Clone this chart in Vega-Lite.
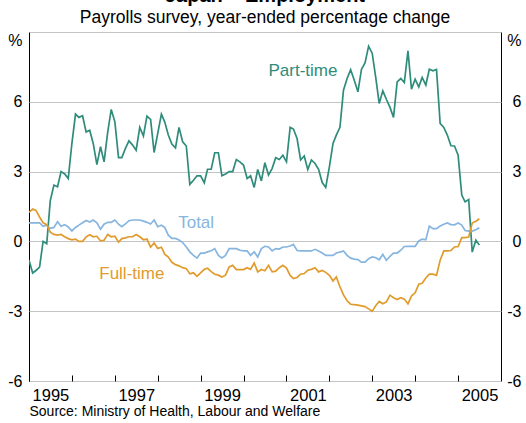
{
  "$schema": "https://vega.github.io/schema/vega-lite/v6.json",
  "width": 472,
  "height": 349,
  "autosize": {"type": "none"},
  "padding": {"left": 29, "top": 32, "right": 25, "bottom": 42},
  "background": "white",
  "config": {
    "font": "Liberation Sans",
    "view": {"stroke": "#000", "strokeWidth": 1},
    "axis": {"labelColor": "#000", "labelFont": "Liberation Sans", "titleFont": "Liberation Sans", "titleColor": "#000"}
  },
  "title": {
    "text": "Japan – Employment",
    "subtitle": "Payrolls survey, year-ended percentage change",
    "fontSize": 20,
    "fontWeight": "bold",
    "color": "#000",
    "subtitleFontSize": 17.5,
    "subtitleColor": "#000",
    "subtitleFont": "Liberation Sans",
    "anchor": "middle",
    "offset": 6,
    "subtitlePadding": 3
  },
  "datasets": {
    "emp": [
      {"date": "1995-01", "Part-time": -0.8, "Total": 0.8, "Full-time": 1.25},
      {"date": "1995-02", "Part-time": -1.36, "Total": 0.8, "Full-time": 1.39},
      {"date": "1995-03", "Part-time": -1.25, "Total": 0.8, "Full-time": 1.33},
      {"date": "1995-04", "Part-time": -1.1, "Total": 0.8, "Full-time": 1.05},
      {"date": "1995-05", "Part-time": 0.0, "Total": 0.65, "Full-time": 0.8},
      {"date": "1995-06", "Part-time": -0.1, "Total": 0.7, "Full-time": 0.72},
      {"date": "1995-07", "Part-time": 1.75, "Total": 0.56, "Full-time": 0.4},
      {"date": "1995-08", "Part-time": 2.42, "Total": 0.6, "Full-time": 0.3},
      {"date": "1995-09", "Part-time": 2.35, "Total": 0.85, "Full-time": 0.27},
      {"date": "1995-10", "Part-time": 3.0, "Total": 0.65, "Full-time": 0.3},
      {"date": "1995-11", "Part-time": 2.9, "Total": 0.72, "Full-time": 0.2},
      {"date": "1995-12", "Part-time": 2.7, "Total": 0.62, "Full-time": 0.12},
      {"date": "1996-01", "Part-time": 4.2, "Total": 0.45, "Full-time": 0.07},
      {"date": "1996-02", "Part-time": 5.47, "Total": 0.6, "Full-time": 0.1},
      {"date": "1996-03", "Part-time": 5.33, "Total": 0.7, "Full-time": 0.0},
      {"date": "1996-04", "Part-time": 5.4, "Total": 0.8, "Full-time": 0.0},
      {"date": "1996-05", "Part-time": 4.7, "Total": 0.9, "Full-time": 0.19},
      {"date": "1996-06", "Part-time": 4.78, "Total": 0.83, "Full-time": 0.29},
      {"date": "1996-07", "Part-time": 4.2, "Total": 0.92, "Full-time": 0.2},
      {"date": "1996-08", "Part-time": 3.3, "Total": 0.8, "Full-time": 0.22},
      {"date": "1996-09", "Part-time": 4.07, "Total": 0.53, "Full-time": 0.02},
      {"date": "1996-10", "Part-time": 3.42, "Total": 0.74, "Full-time": 0.05},
      {"date": "1996-11", "Part-time": 4.7, "Total": 0.82, "Full-time": 0.3},
      {"date": "1996-12", "Part-time": 5.67, "Total": 0.82, "Full-time": 0.2},
      {"date": "1997-01", "Part-time": 5.14, "Total": 0.92, "Full-time": 0.22},
      {"date": "1997-02", "Part-time": 3.6, "Total": 0.74, "Full-time": -0.03},
      {"date": "1997-03", "Part-time": 3.6, "Total": 0.63, "Full-time": 0.12},
      {"date": "1997-04", "Part-time": 4.0, "Total": 0.75, "Full-time": 0.15},
      {"date": "1997-05", "Part-time": 4.32, "Total": 0.89, "Full-time": 0.2},
      {"date": "1997-06", "Part-time": 4.14, "Total": 0.92, "Full-time": 0.2},
      {"date": "1997-07", "Part-time": 3.92, "Total": 0.92, "Full-time": 0.3},
      {"date": "1997-08", "Part-time": 4.9, "Total": 0.92, "Full-time": 0.2},
      {"date": "1997-09", "Part-time": 4.53, "Total": 0.87, "Full-time": 0.07},
      {"date": "1997-10", "Part-time": 5.38, "Total": 0.82, "Full-time": 0.1},
      {"date": "1997-11", "Part-time": 5.24, "Total": 0.75, "Full-time": -0.25},
      {"date": "1997-12", "Part-time": 3.82, "Total": 0.92, "Full-time": -0.07},
      {"date": "1998-01", "Part-time": 4.64, "Total": 0.63, "Full-time": -0.3},
      {"date": "1998-02", "Part-time": 5.47, "Total": 0.7, "Full-time": -0.25},
      {"date": "1998-03", "Part-time": 5.14, "Total": 0.6, "Full-time": -0.55},
      {"date": "1998-04", "Part-time": 4.57, "Total": 0.27, "Full-time": -0.67},
      {"date": "1998-05", "Part-time": 4.18, "Total": 0.13, "Full-time": -0.9},
      {"date": "1998-06", "Part-time": 4.02, "Total": 0.13, "Full-time": -1.0},
      {"date": "1998-07", "Part-time": 4.9, "Total": 0.06, "Full-time": -1.05},
      {"date": "1998-08", "Part-time": 4.28, "Total": -0.05, "Full-time": -1.13},
      {"date": "1998-09", "Part-time": 4.1, "Total": -0.24, "Full-time": -1.17},
      {"date": "1998-10", "Part-time": 2.45, "Total": -0.45, "Full-time": -1.39},
      {"date": "1998-11", "Part-time": 2.63, "Total": -0.6, "Full-time": -1.35},
      {"date": "1998-12", "Part-time": 2.82, "Total": -0.72, "Full-time": -1.5},
      {"date": "1999-01", "Part-time": 2.82, "Total": -0.5, "Full-time": -1.35},
      {"date": "1999-02", "Part-time": 2.52, "Total": -0.5, "Full-time": -1.2},
      {"date": "1999-03", "Part-time": 3.1, "Total": -0.45, "Full-time": -1.15},
      {"date": "1999-04", "Part-time": 3.1, "Total": -0.4, "Full-time": -1.3},
      {"date": "1999-05", "Part-time": 3.81, "Total": -0.31, "Full-time": -1.41},
      {"date": "1999-06", "Part-time": 3.81, "Total": -0.6, "Full-time": -1.45},
      {"date": "1999-07", "Part-time": 2.82, "Total": -0.71, "Full-time": -1.53},
      {"date": "1999-08", "Part-time": 2.9, "Total": -0.6, "Full-time": -1.45},
      {"date": "1999-09", "Part-time": 3.0, "Total": -0.31, "Full-time": -1.1},
      {"date": "1999-10", "Part-time": 3.0, "Total": -0.31, "Full-time": -1.03},
      {"date": "1999-11", "Part-time": 3.52, "Total": -0.31, "Full-time": -1.21},
      {"date": "1999-12", "Part-time": 3.42, "Total": -0.38, "Full-time": -1.21},
      {"date": "2000-01", "Part-time": 3.28, "Total": -0.41, "Full-time": -1.21},
      {"date": "2000-02", "Part-time": 2.7, "Total": -0.41, "Full-time": -1.13},
      {"date": "2000-03", "Part-time": 2.82, "Total": -0.6, "Full-time": -1.2},
      {"date": "2000-04", "Part-time": 2.32, "Total": -0.45, "Full-time": -0.93},
      {"date": "2000-05", "Part-time": 3.09, "Total": -0.67, "Full-time": -1.31},
      {"date": "2000-06", "Part-time": 2.6, "Total": -0.31, "Full-time": -1.21},
      {"date": "2000-07", "Part-time": 3.38, "Total": -0.21, "Full-time": -1.26},
      {"date": "2000-08", "Part-time": 2.85, "Total": -0.24, "Full-time": -1.03},
      {"date": "2000-09", "Part-time": 3.14, "Total": -0.41, "Full-time": -1.31},
      {"date": "2000-10", "Part-time": 3.6, "Total": -0.31, "Full-time": -1.28},
      {"date": "2000-11", "Part-time": 3.52, "Total": -0.33, "Full-time": -1.13},
      {"date": "2000-12", "Part-time": 3.7, "Total": -0.24, "Full-time": -1.03},
      {"date": "2001-01", "Part-time": 3.42, "Total": -0.24, "Full-time": -1.15},
      {"date": "2001-02", "Part-time": 4.9, "Total": -0.2, "Full-time": -1.46},
      {"date": "2001-03", "Part-time": 4.83, "Total": -0.13, "Full-time": -1.6},
      {"date": "2001-04", "Part-time": 4.42, "Total": -0.39, "Full-time": -1.55},
      {"date": "2001-05", "Part-time": 3.5, "Total": -0.41, "Full-time": -1.41},
      {"date": "2001-06", "Part-time": 3.67, "Total": -0.41, "Full-time": -1.38},
      {"date": "2001-07", "Part-time": 3.09, "Total": -0.41, "Full-time": -1.24},
      {"date": "2001-08", "Part-time": 3.5, "Total": -0.41, "Full-time": -1.2},
      {"date": "2001-09", "Part-time": 3.35, "Total": -0.34, "Full-time": -1.13},
      {"date": "2001-10", "Part-time": 3.1, "Total": -0.41, "Full-time": -1.31},
      {"date": "2001-11", "Part-time": 2.53, "Total": -0.5, "Full-time": -1.25},
      {"date": "2001-12", "Part-time": 2.32, "Total": -0.6, "Full-time": -1.33},
      {"date": "2002-01", "Part-time": 3.2, "Total": -0.6, "Full-time": -1.46},
      {"date": "2002-02", "Part-time": 4.21, "Total": -0.6, "Full-time": -1.7},
      {"date": "2002-03", "Part-time": 4.57, "Total": -0.5, "Full-time": -1.53},
      {"date": "2002-04", "Part-time": 4.9, "Total": -0.46, "Full-time": -1.95},
      {"date": "2002-05", "Part-time": 6.5, "Total": -0.41, "Full-time": -2.3},
      {"date": "2002-06", "Part-time": 7.0, "Total": -0.6, "Full-time": -2.55},
      {"date": "2002-07", "Part-time": 7.38, "Total": -0.72, "Full-time": -2.7},
      {"date": "2002-08", "Part-time": 6.93, "Total": -0.76, "Full-time": -2.72},
      {"date": "2002-09", "Part-time": 6.43, "Total": -0.78, "Full-time": -2.74},
      {"date": "2002-10", "Part-time": 7.39, "Total": -0.89, "Full-time": -2.77},
      {"date": "2002-11", "Part-time": 7.68, "Total": -0.89, "Full-time": -2.8},
      {"date": "2002-12", "Part-time": 8.39, "Total": -0.74, "Full-time": -2.9},
      {"date": "2003-01", "Part-time": 8.08, "Total": -0.67, "Full-time": -3.0},
      {"date": "2003-02", "Part-time": 7.0, "Total": -0.7, "Full-time": -2.75},
      {"date": "2003-03", "Part-time": 5.93, "Total": -0.79, "Full-time": -2.58},
      {"date": "2003-04", "Part-time": 6.47, "Total": -0.56, "Full-time": -2.68},
      {"date": "2003-05", "Part-time": 6.11, "Total": -0.81, "Full-time": -2.6},
      {"date": "2003-06", "Part-time": 5.76, "Total": -0.64, "Full-time": -2.31},
      {"date": "2003-07", "Part-time": 5.33, "Total": -0.5, "Full-time": -2.42},
      {"date": "2003-08", "Part-time": 6.86, "Total": -0.5, "Full-time": -2.5},
      {"date": "2003-09", "Part-time": 7.0, "Total": -0.38, "Full-time": -2.42},
      {"date": "2003-10", "Part-time": 6.83, "Total": -0.22, "Full-time": -2.48},
      {"date": "2003-11", "Part-time": 8.19, "Total": -0.21, "Full-time": -2.68},
      {"date": "2003-12", "Part-time": 6.54, "Total": -0.21, "Full-time": -2.35},
      {"date": "2004-01", "Part-time": 6.97, "Total": -0.21, "Full-time": -2.21},
      {"date": "2004-02", "Part-time": 6.64, "Total": 0.02, "Full-time": -1.84},
      {"date": "2004-03", "Part-time": 7.05, "Total": 0.1, "Full-time": -1.8},
      {"date": "2004-04", "Part-time": 6.72, "Total": 0.07, "Full-time": -1.57},
      {"date": "2004-05", "Part-time": 7.4, "Total": 0.66, "Full-time": -1.41},
      {"date": "2004-06", "Part-time": 7.33, "Total": 0.55, "Full-time": -1.41},
      {"date": "2004-07", "Part-time": 7.39, "Total": 0.55, "Full-time": -1.46},
      {"date": "2004-08", "Part-time": 5.07, "Total": 0.66, "Full-time": -0.81},
      {"date": "2004-09", "Part-time": 4.9, "Total": 0.74, "Full-time": -0.41},
      {"date": "2004-10", "Part-time": 4.57, "Total": 0.79, "Full-time": -0.41},
      {"date": "2004-11", "Part-time": 4.11, "Total": 0.72, "Full-time": -0.39},
      {"date": "2004-12", "Part-time": 4.1, "Total": 0.71, "Full-time": -0.24},
      {"date": "2005-01", "Part-time": 3.7, "Total": 0.79, "Full-time": -0.22},
      {"date": "2005-02", "Part-time": 1.99, "Total": 0.7, "Full-time": 0.16},
      {"date": "2005-03", "Part-time": 1.7, "Total": 0.47, "Full-time": 0.16},
      {"date": "2005-04", "Part-time": 1.8, "Total": 0.44, "Full-time": 0.19},
      {"date": "2005-05", "Part-time": -0.46, "Total": 0.44, "Full-time": 0.79},
      {"date": "2005-06", "Part-time": 0.05, "Total": 0.5, "Full-time": 0.87},
      {"date": "2005-07", "Part-time": -0.16, "Total": 0.59, "Full-time": 0.97}
    ]
  },
  "resolve": {"axis": {"y": "independent", "x": "independent"}},
  "layer": [
    {
      "mark": {"type": "rule", "color": "#000", "strokeWidth": 1},
      "encoding": {
        "y": {"datum": 0, "type": "quantitative", "axis": null}
      }
    },
    {
      "data": {"name": "emp"},
      "transform": [{"fold": ["Part-time", "Total", "Full-time"], "as": ["series", "value"]}],
      "mark": {"type": "line", "strokeWidth": 1.7, "clip": true},
      "encoding": {
        "x": {
          "field": "date",
          "type": "temporal",
          "scale": {
            "type": "utc",
            "domain": [{"year": 1995, "month": 1, "date": 1, "utc": true}, {"year": 2006, "month": 1, "date": 1, "utc": true}]
          },
          "axis": {
            "values": [
              {"year": 1995, "month": 1, "date": 1, "utc": true},
              {"year": 1996, "month": 1, "date": 1, "utc": true},
              {"year": 1997, "month": 1, "date": 1, "utc": true},
              {"year": 1998, "month": 1, "date": 1, "utc": true},
              {"year": 1999, "month": 1, "date": 1, "utc": true},
              {"year": 2000, "month": 1, "date": 1, "utc": true},
              {"year": 2001, "month": 1, "date": 1, "utc": true},
              {"year": 2002, "month": 1, "date": 1, "utc": true},
              {"year": 2003, "month": 1, "date": 1, "utc": true},
              {"year": 2004, "month": 1, "date": 1, "utc": true},
              {"year": 2005, "month": 1, "date": 1, "utc": true}
            ],
            "labelExpr": "utcyear(datum.value) % 2 == 1 ? '' + utcyear(datum.value) : ''",
            "labelOffset": 21.4,
            "labelFlush": false,
            "labelOverlap": false,
            "labelFontSize": 16.5,
            "labelPadding": 12,
            "tickSize": -6,
            "tickColor": "#000",
            "tickWidth": 1,
            "domain": false,
            "grid": false,
            "title": "Source: Ministry of Health, Labour and Welfare",
            "titleAnchor": "start",
            "titleAlign": "left",
            "titleFontSize": 14,
            "titleFontWeight": "normal",
            "titlePadding": 1
          }
        },
        "y": {
          "field": "value",
          "type": "quantitative",
          "scale": {"domain": [-6, 9], "nice": false, "zero": false},
          "axis": {
            "values": [-6, -3, 0, 3, 6, 9],
            "labelExpr": "datum.value == 9 ? '%' : '' + datum.value",
            "labelBaseline": {"condition": {"test": "datum.value == 9", "value": "top"}, "value": "middle"},
            "labelFontSize": 16,
            "labelPadding": 7,
            "labelFlush": false,
            "ticks": false,
            "domain": false,
            "grid": true,
            "gridColor": "#c4c4c4",
            "gridWidth": 1,
            "title": null
          }
        },
        "color": {
          "field": "series",
          "type": "nominal",
          "scale": {"domain": ["Part-time", "Total", "Full-time"], "range": ["#2f8c7b", "#86b5e0", "#e19b2c"]},
          "legend": null
        }
      }
    },
    {
      "data": {
        "values": [
          {"series": "Part-time", "date": "2000-08-01", "value": 7.32},
          {"series": "Total", "date": "1998-06-24", "value": 0.81},
          {"series": "Full-time", "date": "1996-08-21", "value": -1.42}
        ]
      },
      "mark": {"type": "text", "align": "left", "baseline": "middle", "fontSize": 17},
      "encoding": {
        "x": {"field": "date", "type": "temporal", "axis": null},
        "y": {
          "field": "value",
          "type": "quantitative",
          "axis": {
            "orient": "right",
            "values": [-6, -3, 0, 3, 6, 9],
            "labelExpr": "datum.value == 9 ? '%' : '' + datum.value",
            "labelBaseline": {"condition": {"test": "datum.value == 9", "value": "top"}, "value": "middle"},
            "labelAlign": "right",
            "labelFontSize": 16,
            "labelPadding": 20,
            "labelFlush": false,
            "ticks": false,
            "domain": false,
            "grid": false,
            "title": null
          }
        },
        "text": {"field": "series"},
        "color": {"field": "series", "type": "nominal", "legend": null}
      }
    }
  ]
}
